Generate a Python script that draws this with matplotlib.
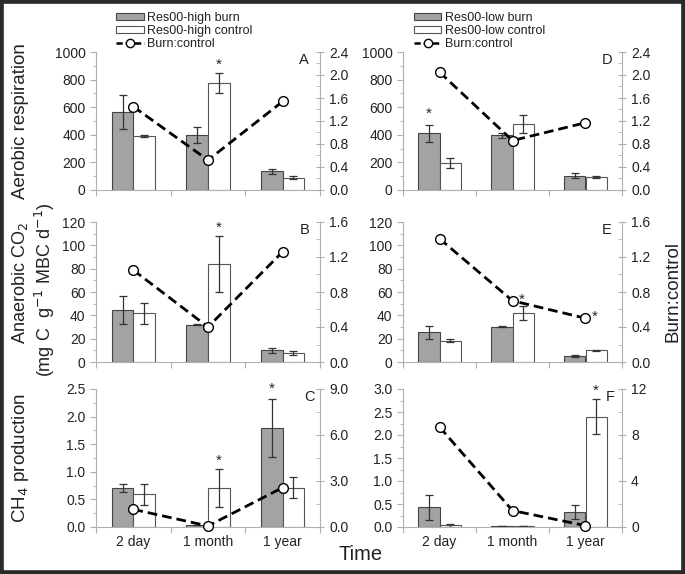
import numpy as np
import matplotlib.pyplot as plt
from matplotlib.lines import Line2D
from matplotlib.patches import Patch, Rectangle
from matplotlib.ticker import MultipleLocator

plt.rcParams['font.family'] = ['Liberation Sans', 'DejaVu Sans']

times = ['2 day', '1 month', '1 year']

# Res00-high (panels A-C)
aer_high_burn = [565, 395, 135]
aer_high_burn_err = [125, 58, 20]
aer_high_ctrl = [390, 775, 90]
aer_high_ctrl_err = [5, 72, 12]
aer_high_ratio = [1.45, 0.52, 1.54]

ana_high_burn = [44.5, 32, 10]
ana_high_burn_err = [12, 0.5, 2]
ana_high_ctrl = [42, 84, 7.7]
ana_high_ctrl_err = [9, 24, 1.5]
ana_high_ratio = [1.05, 0.40, 1.26]

ch4_high_burn = [0.70, 0.04, 1.79]
ch4_high_burn_err = [0.07, 0.005, 0.52]
ch4_high_ctrl = [0.59, 0.71, 0.71]
ch4_high_ctrl_err = [0.19, 0.34, 0.19]
ch4_high_ratio = [1.15, 0.07, 2.57]

# Res00-low (panels D-F)
aer_low_burn = [410, 395, 105]
aer_low_burn_err = [60, 15, 20]
aer_low_ctrl = [195, 475, 95]
aer_low_ctrl_err = [35, 65, 5]
aer_low_ratio = [2.05, 0.86, 1.17]

ana_low_burn = [25.4, 30.4, 5.0]
ana_low_burn_err = [5.5, 0.3, 1]
ana_low_ctrl = [18.3, 42.3, 10]
ana_low_ctrl_err = [1, 6, 0.4]
ana_low_ratio = [1.41, 0.70, 0.50]

ch4_low_burn = [0.43, 0.015, 0.33]
ch4_low_burn_err = [0.27, 0.003, 0.15]
ch4_low_ctrl = [0.036, 0.015, 2.40]
ch4_low_ctrl_err = [0.03, 0.003, 0.38]
ch4_low_ratio = [8.7, 1.43, 0.12]

gray = '#a3a3a3'
spine_c = '#b0b0b0'
txt_c = '#222222'

fig = plt.figure(figsize=(6.85, 5.74), dpi=100)

lefts = [96 / 685, 403 / 685]
widths = [224 / 685, 219 / 685]
rows = [(52, 190), (222, 362), (389, 527)]


def make_panel(col, row, burn, burn_err, ctrl, ctrl_err, ratio,
               ylim, ystep, yminor, rlim, rstep, rfmt, letter, stars):
    top, bot = rows[row]
    ax = fig.add_axes([lefts[col], 1 - bot / 574, widths[col], (bot - top) / 574])
    x = np.arange(len(times)) + 0.5
    w = 0.29
    ax.bar(x - w / 2, burn, w, color=gray, edgecolor='#444444', linewidth=0.8,
           yerr=burn_err, error_kw=dict(ecolor='#333333', elinewidth=0.9, capsize=3, capthick=0.9))
    ax.bar(x + w / 2, ctrl, w, color='white', edgecolor='#555555', linewidth=0.8,
           yerr=ctrl_err, error_kw=dict(ecolor='#333333', elinewidth=0.9, capsize=3, capthick=0.9))
    ax.set_xlim(0, 3)
    ax.set_ylim(*ylim)
    ax.yaxis.set_major_locator(MultipleLocator(ystep))
    ax.yaxis.set_minor_locator(MultipleLocator(yminor))
    ax.set_xticks([0, 1, 2, 3])
    ax.set_xticklabels([])
    ax.set_xticks(x, minor=True)
    if row == 2:
        ax.set_xticklabels(times, minor=True)
    ax.tick_params(axis='x', which='major', length=4, color=spine_c)
    ax.tick_params(axis='x', which='minor', length=0, labelsize=10, labelcolor=txt_c, pad=6)
    ax.tick_params(axis='y', which='major', direction='out', length=4, color=spine_c,
                   labelsize=10, labelcolor=txt_c)
    ax.tick_params(axis='y', which='minor', direction='out', length=2.5, color=spine_c)
    if ystep < 1:
        ax.yaxis.set_major_formatter('{x:.1f}')
    for s in ['top', 'right']:
        ax.spines[s].set_visible(False)
    for s in ['left', 'bottom']:
        ax.spines[s].set_color(spine_c)

    ax2 = ax.twinx()
    ax2.plot(x, ratio, linestyle=(0, (3.5, 1.8)), color='black', linewidth=2,
             marker='o', markersize=7, markerfacecolor='white', markeredgecolor='black',
             markeredgewidth=1, clip_on=False)
    ax2.set_ylim(*rlim)
    ax2.yaxis.set_major_locator(MultipleLocator(rstep))
    ax2.yaxis.set_minor_locator(MultipleLocator(rstep / 2))
    ax2.yaxis.set_major_formatter(rfmt)
    ax2.tick_params(axis='y', which='major', direction='inout', length=6, color=spine_c,
                    labelsize=10, labelcolor=txt_c)
    ax2.tick_params(axis='y', which='minor', direction='in', length=3, color=spine_c)
    for s in ['top', 'left', 'bottom']:
        ax2.spines[s].set_visible(False)
    ax2.spines['right'].set_color(spine_c)

    lx = 0.955 if row == 2 else 0.93
    if letter == 'F':
        lx = 0.945
    ax.text(lx, 0.99, letter, transform=ax.transAxes, ha='center', va='top',
            fontsize=10.5, color=txt_c)

    # significance stars
    for kind, i in stars:
        if kind == 'burn':
            ax.text(x[i] - w / 2, burn[i] + burn_err[i] + (ylim[1] - ylim[0]) * 0.03, '*',
                    ha='center', va='bottom', fontsize=11, clip_on=False, color=txt_c)
        elif kind == 'ctrl':
            ax.text(x[i] + w / 2, ctrl[i] + ctrl_err[i] + (ylim[1] - ylim[0]) * 0.01, '*',
                    ha='center', va='bottom', fontsize=11, clip_on=False, color=txt_c)
        else:
            ax2.text(x[i] + 0.12, ratio[i] - (rlim[1] - rlim[0]) * 0.04, '*',
                     ha='center', va='bottom', fontsize=11, color=txt_c)
    return ax


axA = make_panel(0, 0, aer_high_burn, aer_high_burn_err, aer_high_ctrl, aer_high_ctrl_err,
                 aer_high_ratio, (0, 1000), 200, 100, (0, 2.4), 0.4, '{x:.1f}', 'A',
                 [('ctrl', 1)])
make_panel(0, 1, ana_high_burn, ana_high_burn_err, ana_high_ctrl, ana_high_ctrl_err,
           ana_high_ratio, (0, 120), 20, 10, (0, 1.6), 0.4, '{x:.1f}', 'B',
           [('ctrl', 1)])
make_panel(0, 2, ch4_high_burn, ch4_high_burn_err, ch4_high_ctrl, ch4_high_ctrl_err,
           ch4_high_ratio, (0, 2.5), 0.5, 0.25, (0, 9), 3, '{x:.1f}', 'C',
           [('ctrl', 1), ('burn', 2)])
axD = make_panel(1, 0, aer_low_burn, aer_low_burn_err, aer_low_ctrl, aer_low_ctrl_err,
                 aer_low_ratio, (0, 1000), 200, 100, (0, 2.4), 0.4, '{x:.1f}', 'D',
                 [('burn', 0)])
make_panel(1, 1, ana_low_burn, ana_low_burn_err, ana_low_ctrl, ana_low_ctrl_err,
           ana_low_ratio, (0, 120), 20, 10, (0, 1.6), 0.4, '{x:.1f}', 'E',
           [('ratio', 1), ('ratio', 2)])
make_panel(1, 2, ch4_low_burn, ch4_low_burn_err, ch4_low_ctrl, ch4_low_ctrl_err,
           ch4_low_ratio, (0, 3.0), 0.5, 0.25, (0, 12), 4, '{x:.0f}', 'F',
           [('ctrl', 2)])

# legends
for ax, site in [(axA, 'high'), (axD, 'low')]:
    handles = [Patch(facecolor=gray, edgecolor='#444444', linewidth=0.8),
               Patch(facecolor='white', edgecolor='#555555', linewidth=0.8),
               Line2D([], [], linestyle=(0, (2.5, 1.2)), color='black', linewidth=1.8,
                      marker='o', markersize=6, markerfacecolor='white',
                      markeredgecolor='black', markeredgewidth=1)]
    labels = ['Res00-%s burn' % site, 'Res00-%s control' % site, 'Burn:control']
    x0 = 0.09 if site == 'high' else 0.05
    leg = ax.legend(handles, labels, loc='lower left', bbox_to_anchor=(x0, 1.015),
                    frameon=False, fontsize=9, handlelength=2.2, handleheight=0.6,
                    handletextpad=0.25, labelspacing=0.08, borderpad=0, borderaxespad=0,
                    numpoints=1)
    for t in leg.get_texts():
        t.set_color(txt_c)

# axis titles
fig.text(0.030, 1 - 121 / 574, 'Aerobic respiration', rotation=90, ha='center', va='center',
         fontsize=13.5, color=txt_c)
fig.text(0.029, 1 - 283 / 574, 'Anaerobic CO$_2$', rotation=90, ha='center', va='center',
         fontsize=13, color=txt_c)
fig.text(0.066, 1 - 290 / 574, '(mg C  g$^{-1}$ MBC d$^{-1}$)', rotation=90, ha='center',
         va='center', fontsize=13, color=txt_c)
fig.text(0.030, 1 - 458 / 574, 'CH$_4$ production', rotation=90, ha='center', va='center',
         fontsize=13.5, color=txt_c)
fig.text(0.982, 1 - 292 / 574, 'Burn:control', rotation=90, ha='center', va='center',
         fontsize=13.5, color=txt_c)
fig.text(0.527, 1 - 555 / 574, 'Time', ha='center', va='center', fontsize=14.5, color=txt_c)

# dark frame around the figure
fig.add_artist(Rectangle((0, 0), 1, 1, transform=fig.transFigure, fill=False,
                         edgecolor='#2a2a2a', linewidth=5.5))

plt.savefig('out.png', dpi=100)
